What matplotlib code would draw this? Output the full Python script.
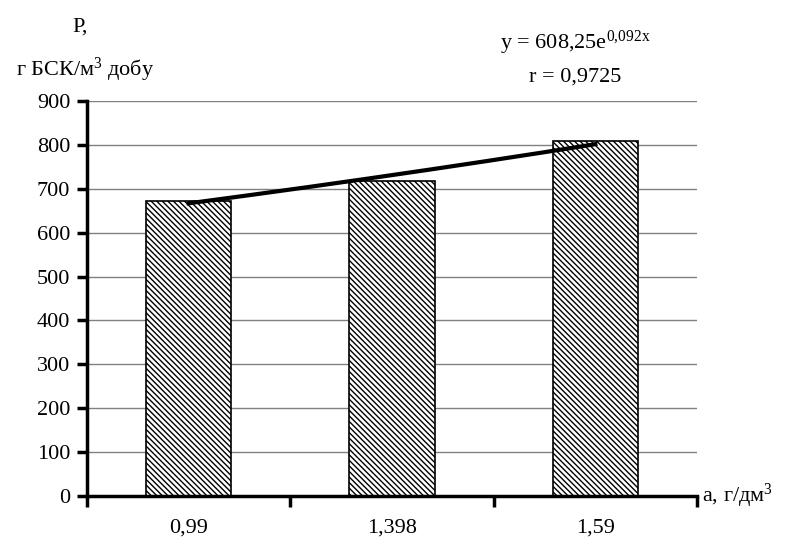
import numpy as np
import matplotlib
matplotlib.use("Agg")
import matplotlib.pyplot as plt

categories = ["0,99", "1,398", "1,59"]
values = [673, 718, 808]
trend_a = 608.25
trend_b = 0.092
yticks = [0, 100, 200, 300, 400, 500, 600, 700, 800, 900]

plt.rcParams['font.family'] = ['Liberation Serif', 'DejaVu Serif']
plt.rcParams['mathtext.fontset'] = 'custom'
plt.rcParams['mathtext.rm'] = 'Liberation Serif'
plt.rcParams['mathtext.it'] = 'Liberation Serif'
plt.rcParams['mathtext.default'] = 'rm'
plt.rcParams['hatch.linewidth'] = 1.0

FS = 16

fig = plt.figure(figsize=(7.94, 5.49), dpi=100)
ax = fig.add_axes([87/794, 1-496/549, (697-87)/794, (496-101)/549])

x = np.arange(len(categories))
ax.bar(x, values, width=0.42, color='white', edgecolor='black', hatch='\\\\\\\\\\\\', linewidth=1.2, zorder=2)

# exponential trendline over category index 1..n
xi = np.linspace(1, len(categories), 200)
ax.plot(xi - 1, trend_a * np.exp(trend_b * xi), color='black', lw=3, zorder=3)

ax.set_xlim(-0.5, len(categories) - 0.5)
ax.set_ylim(0, 900)
ax.set_yticks(yticks)
ax.set_yticklabels([str(v) for v in yticks], fontsize=FS)
ax.yaxis.grid(True, color='#808080', lw=1, zorder=0)
ax.set_axisbelow(True)

ax.set_xticks(np.arange(-0.5, len(categories), 1.0))
ax.set_xticklabels([])
ax.set_xticks(x, minor=True)
ax.set_xticklabels(categories, minor=True, fontsize=FS)
ax.tick_params(axis='x', which='minor', length=0, pad=16)
ax.tick_params(axis='x', which='major', length=8, width=2.5, direction='out')
ax.tick_params(axis='y', length=7, width=2.5, direction='out', pad=5)

for s in ['top', 'right']:
    ax.spines[s].set_visible(False)
for s in ['left', 'bottom']:
    ax.spines[s].set_linewidth(2.5)

fig.text(80/794, 1-27/549, "P,", fontsize=FS, ha='center', va='center')
fig.text(85/794, 1-70/549, "г БСК/м$^{3}$ добу", fontsize=FS, ha='center', va='center')
fig.text(575/794, 1-43/549, "y = 608,25e$^{0{,}092x}$", fontsize=FS, ha='center', va='center')
fig.text(575/794, 1-77/549, "r = 0,9725", fontsize=FS, ha='center', va='center')
fig.text(702/794, 1-496/549, "a, г/дм$^{3}$", fontsize=FS, ha='left', va='center')

fig.savefig("out.png", dpi=100)
